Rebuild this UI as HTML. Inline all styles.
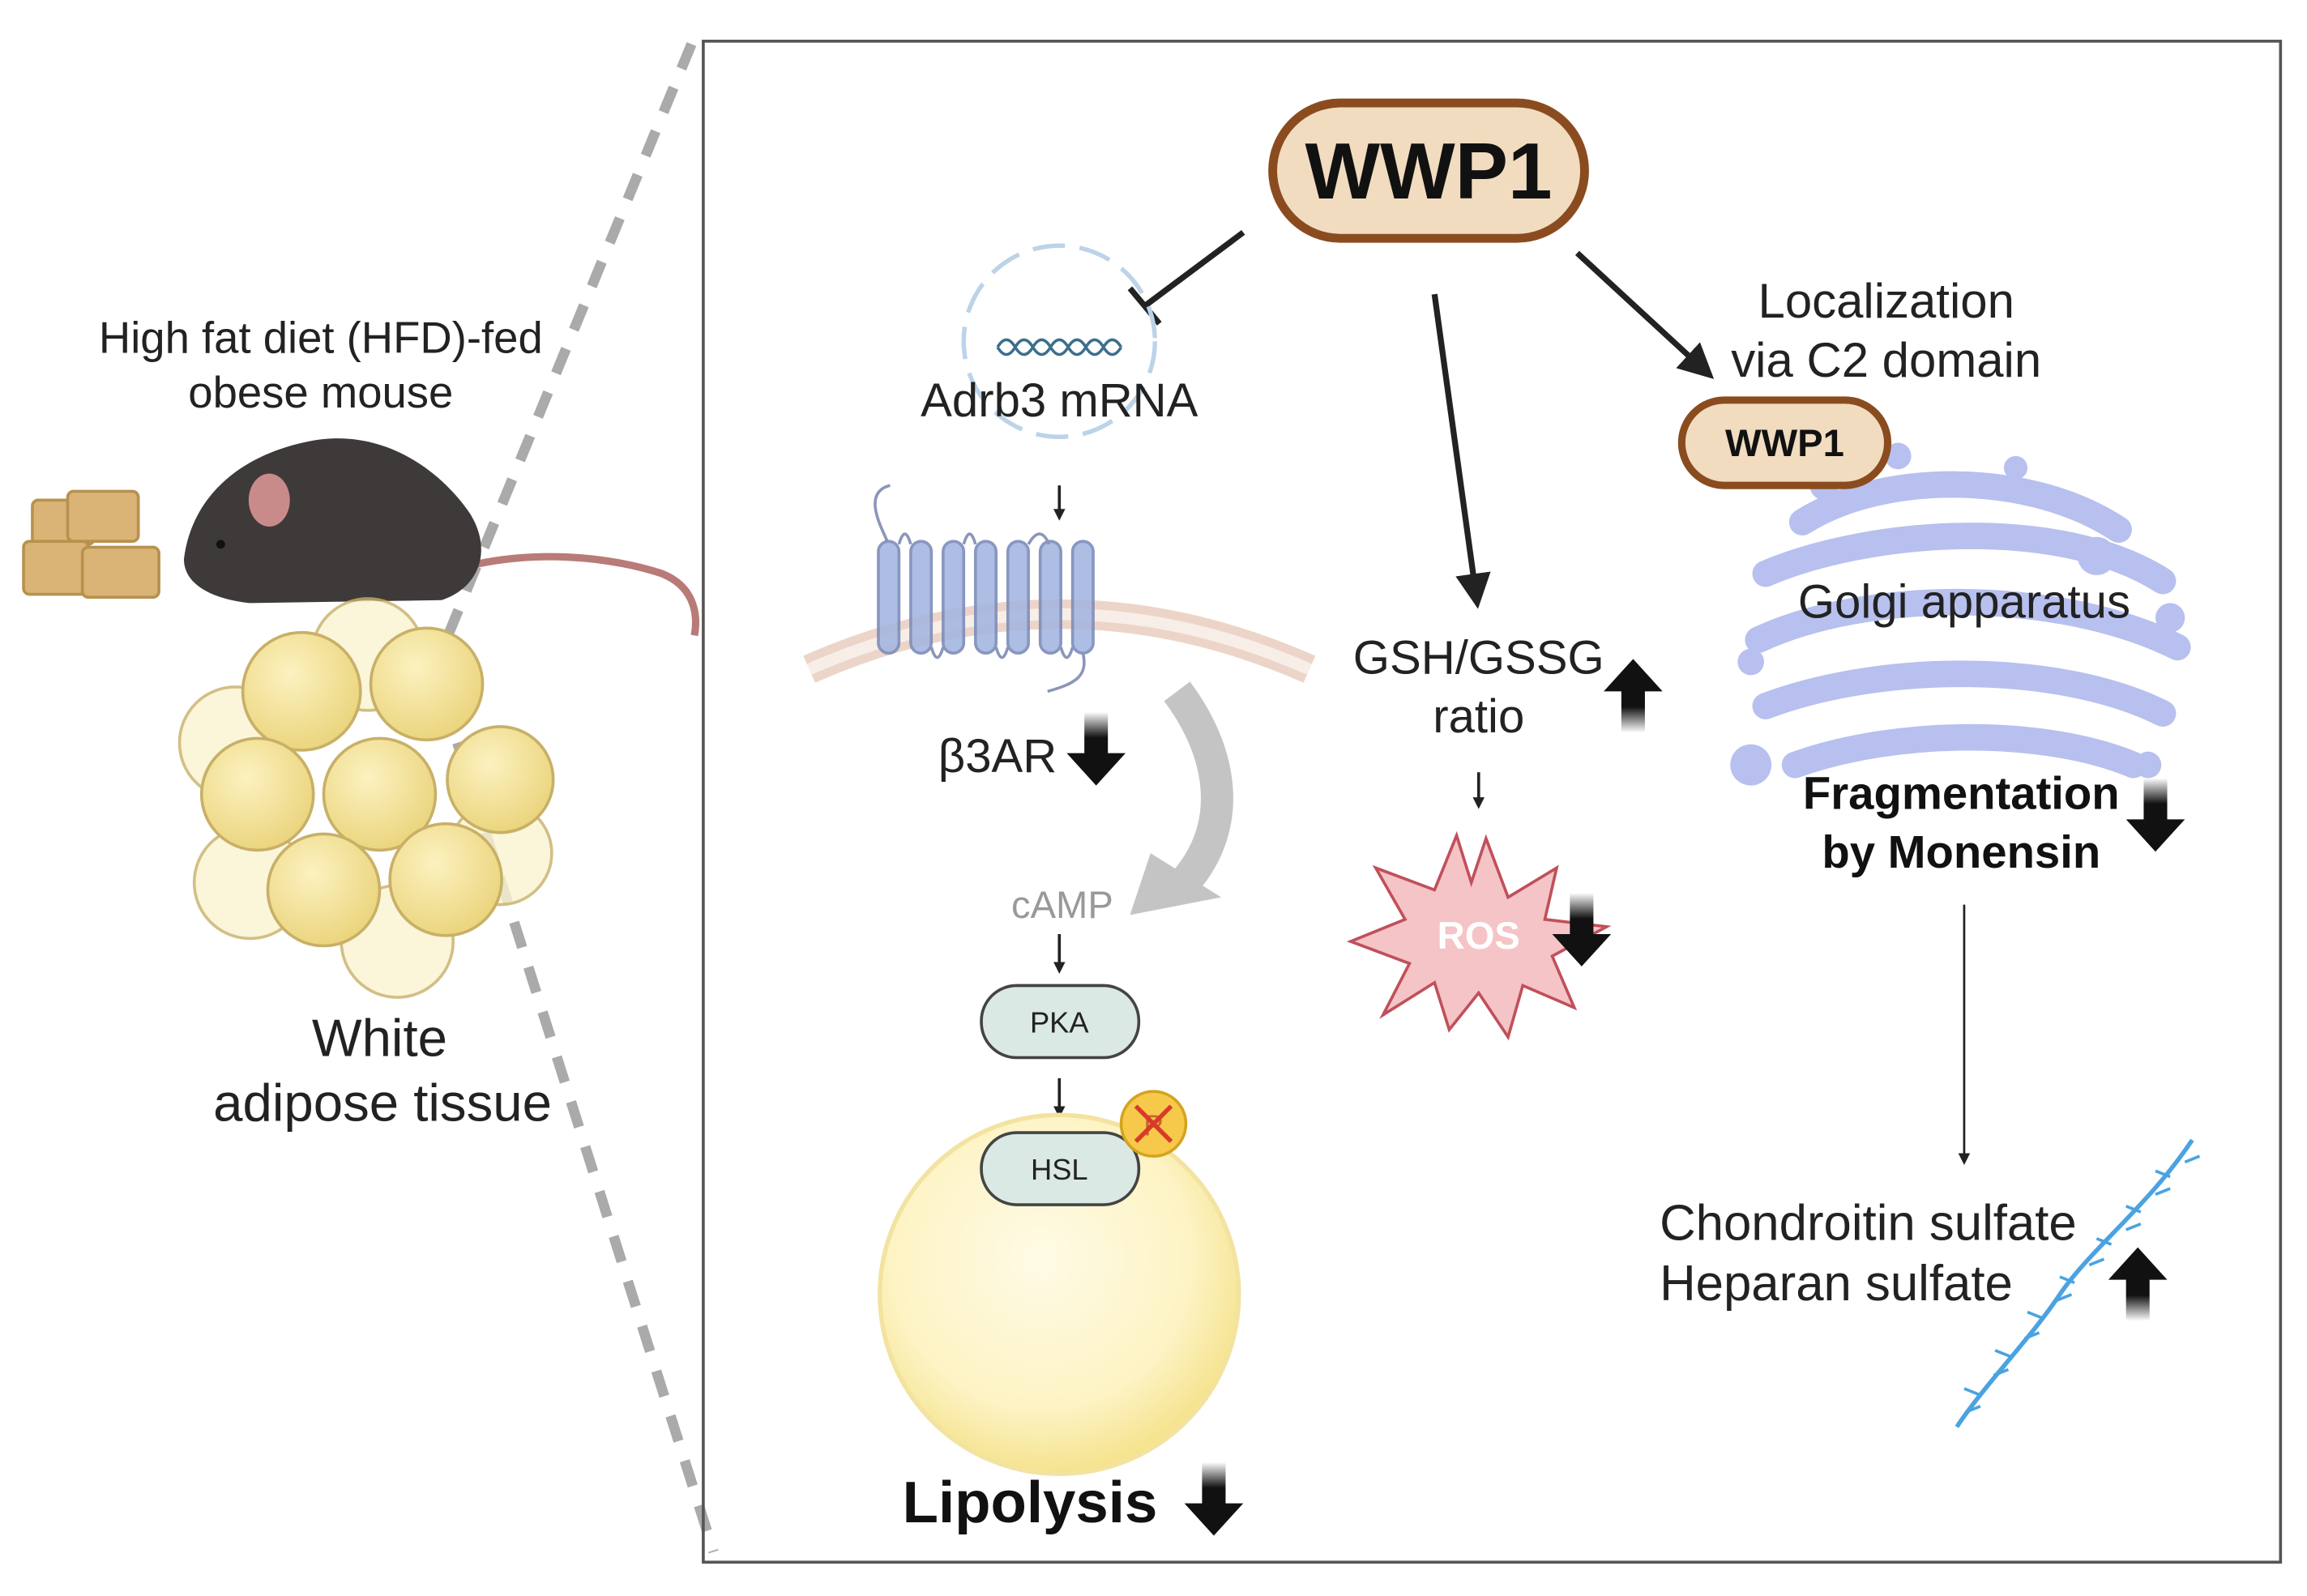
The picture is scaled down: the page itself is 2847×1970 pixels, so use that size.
<!DOCTYPE html>
<html><head><meta charset="utf-8"><style>
html,body{margin:0;padding:0;background:#fff}
svg{display:block}
text{font-family:"Liberation Sans",sans-serif}
</style></head><body>
<svg width="2847" height="1970" viewBox="0 0 1568 1085" preserveAspectRatio="none" xmlns="http://www.w3.org/2000/svg">
<defs>
<linearGradient id="gd" x1="0" y1="0" x2="0" y2="1"><stop offset="0" stop-color="#111" stop-opacity="0"/><stop offset="0.35" stop-color="#111"/><stop offset="1" stop-color="#111"/></linearGradient>
<linearGradient id="gu" x1="0" y1="1" x2="0" y2="0"><stop offset="0" stop-color="#111" stop-opacity="0"/><stop offset="0.35" stop-color="#111"/><stop offset="1" stop-color="#111"/></linearGradient>
<radialGradient id="drop" cx="0.45" cy="0.4" r="0.6"><stop offset="0" stop-color="#fffbe6"/><stop offset="0.7" stop-color="#fdf3c4"/><stop offset="1" stop-color="#f5e38e"/></radialGradient>
<radialGradient id="cell" cx="0.4" cy="0.35" r="0.7"><stop offset="0" stop-color="#fcf2c0"/><stop offset="1" stop-color="#ead37a"/></radialGradient>
<marker id="ah" markerWidth="8" markerHeight="8" refX="6" refY="4" orient="auto" markerUnits="userSpaceOnUse"><path d="M0,0 L8,4 L0,8 Z" fill="#222"/></marker>
<marker id="ahb" markerWidth="24" markerHeight="24" refX="20" refY="12" orient="auto" markerUnits="userSpaceOnUse"><path d="M0,0 L24,12 L0,24 Z" fill="#222"/></marker>
<g id="down"><path d="M-8,-28 L8,-28 L8,0 L20,0 L0,22 L-20,0 L-8,0 Z" fill="url(#gd)"/></g>
<g id="up"><path d="M-8,28 L8,28 L8,0 L20,0 L0,-22 L-20,0 L-8,0 Z" fill="url(#gu)"/></g>
</defs>

<path d="M470,30 L295,455 L485,1055" fill="none" stroke="#aaa" stroke-width="7" stroke-dasharray="18,14"/>
<rect x="478" y="28" width="1072" height="1034" fill="none" stroke="#555" stroke-width="2"/>

<text x="218" y="240" font-size="30" text-anchor="middle" fill="#222">High fat diet (HFD)-fed</text>
<text x="218" y="277" font-size="30" text-anchor="middle" fill="#222">obese mouse</text>
<g fill="#d9b476" stroke="#b8914e" stroke-width="2">
<rect x="22" y="340" width="42" height="30" rx="4"/>
<rect x="46" y="334" width="48" height="34" rx="4"/>
<rect x="16" y="368" width="44" height="36" rx="4"/>
<rect x="56" y="372" width="52" height="34" rx="4"/>
</g>
<path d="M300,390 C360,370 420,380 450,390 C470,398 475,415 472,432" fill="none" stroke="#b87b78" stroke-width="5"/>
<path d="M125,380 C130,340 160,310 210,300 C260,290 300,320 320,350 C335,375 325,400 300,408 L170,410 C150,408 125,400 125,380 Z" fill="#3e3a39"/>
<ellipse cx="183" cy="340" rx="14" ry="18" fill="#c98b8a"/>
<circle cx="150" cy="370" r="3" fill="#111"/>
<g stroke="#c8b067" stroke-width="2">
<circle cx="160" cy="505" r="38" fill="#fbf3d2" opacity="0.8"/>
<circle cx="340" cy="580" r="35" fill="#fbf3d2" opacity="0.8"/>
<circle cx="170" cy="600" r="38" fill="#fbf3d2" opacity="0.8"/>
<circle cx="270" cy="640" r="38" fill="#fbf3d2" opacity="0.8"/>
<circle cx="250" cy="445" r="38" fill="#fbf3d2" opacity="0.8"/>
<circle cx="205" cy="470" r="40" fill="url(#cell)"/>
<circle cx="290" cy="465" r="38" fill="url(#cell)"/>
<circle cx="175" cy="540" r="38" fill="url(#cell)"/>
<circle cx="258" cy="540" r="38" fill="url(#cell)"/>
<circle cx="340" cy="530" r="36" fill="url(#cell)"/>
<circle cx="220" cy="605" r="38" fill="url(#cell)"/>
<circle cx="303" cy="598" r="38" fill="url(#cell)"/>
</g>
<text x="258" y="718" font-size="36" text-anchor="middle" fill="#222">White</text>
<text x="260" y="762" font-size="36" text-anchor="middle" fill="#222">adipose tissue</text>

<rect x="865" y="70" width="212" height="92" rx="46" fill="#f1dcc0" stroke="#8a4c1f" stroke-width="6"/>
<text x="971" y="135" font-size="54" font-weight="bold" text-anchor="middle" fill="#111">WWP1</text>

<line x1="845" y1="158" x2="778" y2="208" stroke="#222" stroke-width="4"/>
<line x1="768" y1="196" x2="788" y2="220" stroke="#222" stroke-width="4"/>

<circle cx="720" cy="232" r="65" fill="none" stroke="#bcd3e8" stroke-width="3" stroke-dasharray="22,10"/>
<path d="M678,236 q6,-10 12,0 t12,0 t12,0 t12,0 t12,0 t12,0 t12,0 M678,236 q6,10 12,0 t12,0 t12,0 t12,0 t12,0 t12,0 t12,0" fill="none" stroke="#3c6f8c" stroke-width="2"/>
<text x="720" y="283" font-size="32" text-anchor="middle" fill="#222">Adrb3 mRNA</text>
<line x1="720" y1="330" x2="720" y2="352" stroke="#222" stroke-width="2" marker-end="url(#ah)"/>

<path d="M550,455 Q720,380 890,455" fill="none" stroke="#ecd5c8" stroke-width="20"/>
<path d="M550,455 Q720,380 890,455" fill="none" stroke="#f8eee8" stroke-width="8"/>
<path d="M605,330 C585,335 600,360 603,368" fill="none" stroke="#8b96b8" stroke-width="2"/>
<g fill="#a6b6e0" stroke="#7c8cba" stroke-width="2" opacity="0.9">
<rect x="597" y="368" width="14" height="76" rx="7"/>
<rect x="619" y="368" width="14" height="76" rx="7"/>
<rect x="641" y="368" width="14" height="76" rx="7"/>
<rect x="663" y="368" width="14" height="76" rx="7"/>
<rect x="685" y="368" width="14" height="76" rx="7"/>
<rect x="707" y="368" width="14" height="76" rx="7"/>
<rect x="729" y="368" width="14" height="76" rx="7"/>
</g>
<path d="M611,370 q4,-14 8,0 M655,370 q4,-14 8,0 M699,370 q8,-14 14,0 M633,440 q4,14 8,0 M677,440 q4,14 8,0 M721,440 q4,14 8,0 M736,444 C740,460 730,465 712,470" fill="none" stroke="#8b96b8" stroke-width="2"/>
<text x="678" y="525" font-size="32" text-anchor="middle" fill="#222">β3AR</text>
<use href="#down" x="745" y="512"/>

<path d="M800,470 C830,510 840,560 805,600" fill="none" stroke="#c4c4c4" stroke-width="22"/>
<path d="M782,580 L830,610 L768,622 Z" fill="#c4c4c4"/>
<text x="722" y="624" font-size="26" text-anchor="middle" fill="#999">cAMP</text>
<line x1="720" y1="635" x2="720" y2="660" stroke="#222" stroke-width="2" marker-end="url(#ah)"/>
<rect x="667" y="670" width="107" height="49" rx="24" fill="#dbe9e4" stroke="#444" stroke-width="2"/>
<text x="720" y="702" font-size="20" text-anchor="middle" fill="#222">PKA</text>
<line x1="720" y1="733" x2="720" y2="758" stroke="#222" stroke-width="2" marker-end="url(#ah)"/>

<circle cx="720" cy="880" r="122" fill="url(#drop)" stroke="#f3e3a0" stroke-width="3"/>
<rect x="667" y="770" width="107" height="49" rx="24" fill="#dbe9e4" stroke="#444" stroke-width="2"/>
<text x="720" y="802" font-size="20" text-anchor="middle" fill="#222">HSL</text>
<circle cx="784" cy="764" r="22" fill="#f6c94a" stroke="#d4a420" stroke-width="2"/>
<text x="784" y="772" font-size="20" text-anchor="middle" fill="#c7672b">P</text>
<path d="M772,752 L796,776 M796,752 L772,776" stroke="#d83a2a" stroke-width="3"/>
<text x="700" y="1035" font-size="40" font-weight="bold" text-anchor="middle" fill="#111">Lipolysis</text>
<use href="#down" x="825" y="1022"/>

<line x1="975" y1="200" x2="1004" y2="410" stroke="#222" stroke-width="4" marker-end="url(#ahb)"/>
<text x="1005" y="458" font-size="32" text-anchor="middle" fill="#222">GSH/GSSG</text>
<text x="1005" y="498" font-size="32" text-anchor="middle" fill="#222">ratio</text>
<use href="#up" x="1110" y="470"/>
<line x1="1005" y1="525" x2="1005" y2="548" stroke="#222" stroke-width="2" marker-end="url(#ah)"/>
<polygon points="1010,570 1025,610 1058,590 1050,625 1092,630 1055,650 1070,685 1035,670 1025,705 1005,675 985,700 975,668 940,690 958,655 918,640 955,625 935,590 975,605 990,568 1000,600" fill="#f5c4c6" stroke="#c0505a" stroke-width="2"/>
<text x="1005" y="645" font-size="26" font-weight="bold" text-anchor="middle" fill="#fff">ROS</text>
<use href="#down" x="1075" y="635"/>

<line x1="1072" y1="172" x2="1162" y2="255" stroke="#222" stroke-width="4" marker-end="url(#ahb)"/>
<text x="1282" y="216" font-size="33" text-anchor="middle" fill="#222">Localization</text>
<text x="1282" y="256" font-size="33" text-anchor="middle" fill="#222">via C2 domain</text>

<g fill="none" stroke="#b7c0ee" stroke-width="18" stroke-linecap="round">
<path d="M1225,355 C1280,320 1380,320 1440,360"/>
<path d="M1200,390 C1270,360 1400,350 1470,395"/>
<path d="M1195,435 C1270,400 1400,400 1480,440"/>
<path d="M1200,480 C1280,450 1400,450 1470,485"/>
<path d="M1220,520 C1290,495 1390,495 1450,520"/>
</g>
<g fill="#b7c0ee">
<circle cx="1190" cy="450" r="9"/><circle cx="1190" cy="520" r="14"/><circle cx="1425" cy="378" r="13"/>
<circle cx="1475" cy="420" r="10"/><circle cx="1290" cy="310" r="9"/><circle cx="1240" cy="330" r="10"/>
<circle cx="1460" cy="520" r="9"/><circle cx="1370" cy="318" r="8"/>
</g>
<rect x="1143" y="272" width="140" height="58" rx="29" fill="#f1dcc0" stroke="#8a4c1f" stroke-width="5"/>
<text x="1213" y="310" font-size="26" font-weight="bold" text-anchor="middle" fill="#111">WWP1</text>
<text x="1335" y="420" font-size="32" text-anchor="middle" fill="#222">Golgi apparatus</text>
<text x="1333" y="550" font-size="31" font-weight="bold" text-anchor="middle" fill="#111">Fragmentation</text>
<text x="1333" y="590" font-size="31" font-weight="bold" text-anchor="middle" fill="#111">by Monensin</text>
<use href="#down" x="1465" y="557"/>
<line x1="1335" y1="615" x2="1335" y2="790" stroke="#222" stroke-width="1.5" marker-end="url(#ah)"/>

<g stroke="#4aa3e0" stroke-width="3" fill="none">
<path d="M1490,775 C1460,820 1420,850 1400,880 C1380,910 1350,940 1330,970"/>
<path d="M1485,790 l10,-4 M1475,800 l-10,-4 M1465,812 l10,-4 M1455,824 l-10,-4 M1445,836 l10,-4 M1435,846 l-10,-4 M1420,860 l10,-4 M1410,872 l-10,-4 M1398,884 l10,-4 M1388,896 l-10,-4 M1376,910 l10,-4 M1366,922 l-10,-4 M1355,935 l10,-4 M1345,948 l-10,-4 M1336,960 l10,-4" stroke-width="2"/>
</g>
<text x="1128" y="843" font-size="34" fill="#222">Chondroitin sulfate</text>
<text x="1128" y="884" font-size="34" fill="#222">Heparan sulfate</text>
<use href="#up" x="1453" y="870"/>
</svg>
</body></html>
